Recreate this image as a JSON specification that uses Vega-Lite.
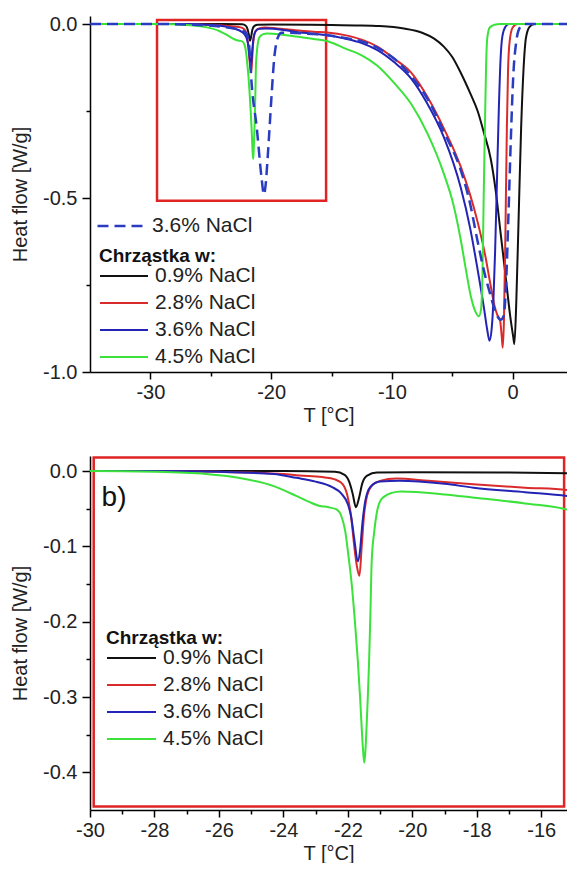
{
  "$schema": "https://vega.github.io/schema/vega-lite/v6.json",
  "padding": {"left": 10, "top": 14, "right": 0, "bottom": 0},
  "spacing": 31,
  "config": {
    "view": {"stroke": null},
    "font": "Liberation Sans",
    "axis": {
      "grid": false,
      "labelFlush": false,
      "labelOverlap": false,
      "domainColor": "#000000",
      "domainWidth": 1.5,
      "tickColor": "#000000",
      "tickWidth": 1.5,
      "labelFont": "Liberation Sans",
      "labelFontSize": 20,
      "labelColor": "#222222",
      "titleFont": "Liberation Sans",
      "titleFontSize": 20,
      "titleFontWeight": "normal",
      "titleColor": "#222222"
    },
    "legend": {
      "labelFont": "Liberation Sans",
      "titleFont": "Liberation Sans",
      "labelColor": "#222222",
      "titleColor": "#111111",
      "padding": 0
    }
  },
  "datasets": {
    "cart": [
      {"sample":"0.9% NaCl","T":-35,"HF":0},{"sample":"0.9% NaCl","T":-28,"HF":0},{"sample":"0.9% NaCl","T":-24,"HF":0},{"sample":"0.9% NaCl","T":-22.4,"HF":-0.001},{"sample":"0.9% NaCl","T":-22.1,"HF":-0.005},{"sample":"0.9% NaCl","T":-21.95,"HF":-0.015},{"sample":"0.9% NaCl","T":-21.85,"HF":-0.03},{"sample":"0.9% NaCl","T":-21.75,"HF":-0.048},{"sample":"0.9% NaCl","T":-21.65,"HF":-0.035},{"sample":"0.9% NaCl","T":-21.55,"HF":-0.016},{"sample":"0.9% NaCl","T":-21.4,"HF":-0.006},{"sample":"0.9% NaCl","T":-21.1,"HF":-0.002},{"sample":"0.9% NaCl","T":-20,"HF":-0.0015},{"sample":"0.9% NaCl","T":-17,"HF":-0.002},{"sample":"0.9% NaCl","T":-15,"HF":-0.003},{"sample":"0.9% NaCl","T":-13,"HF":-0.004},{"sample":"0.9% NaCl","T":-11,"HF":-0.006},{"sample":"0.9% NaCl","T":-9,"HF":-0.013},{"sample":"0.9% NaCl","T":-7.5,"HF":-0.025},{"sample":"0.9% NaCl","T":-6.5,"HF":-0.042},{"sample":"0.9% NaCl","T":-5.7,"HF":-0.065},{"sample":"0.9% NaCl","T":-5,"HF":-0.095},{"sample":"0.9% NaCl","T":-4.3,"HF":-0.14},{"sample":"0.9% NaCl","T":-3.5,"HF":-0.2},{"sample":"0.9% NaCl","T":-2.9,"HF":-0.25},{"sample":"0.9% NaCl","T":-2.4,"HF":-0.31},{"sample":"0.9% NaCl","T":-1.8,"HF":-0.39},{"sample":"0.9% NaCl","T":-1.4,"HF":-0.48},{"sample":"0.9% NaCl","T":-1.0,"HF":-0.6},{"sample":"0.9% NaCl","T":-0.6,"HF":-0.72},{"sample":"0.9% NaCl","T":-0.2,"HF":-0.84},{"sample":"0.9% NaCl","T":0.05,"HF":-0.9},{"sample":"0.9% NaCl","T":0.14,"HF":-0.92},{"sample":"0.9% NaCl","T":0.3,"HF":-0.8},{"sample":"0.9% NaCl","T":0.5,"HF":-0.55},{"sample":"0.9% NaCl","T":0.7,"HF":-0.3},{"sample":"0.9% NaCl","T":0.9,"HF":-0.13},{"sample":"0.9% NaCl","T":1.1,"HF":-0.04},{"sample":"0.9% NaCl","T":1.4,"HF":-0.008},{"sample":"0.9% NaCl","T":1.8,"HF":0},{"sample":"0.9% NaCl","T":4.5,"HF":0},

      {"sample":"2.8% NaCl","T":-35,"HF":0},{"sample":"2.8% NaCl","T":-28,"HF":0},{"sample":"2.8% NaCl","T":-26,"HF":-0.001},{"sample":"2.8% NaCl","T":-25,"HF":-0.002},{"sample":"2.8% NaCl","T":-24,"HF":-0.004},{"sample":"2.8% NaCl","T":-23.5,"HF":-0.006},{"sample":"2.8% NaCl","T":-22.8,"HF":-0.008},{"sample":"2.8% NaCl","T":-22.4,"HF":-0.011},{"sample":"2.8% NaCl","T":-22.15,"HF":-0.018},{"sample":"2.8% NaCl","T":-22.0,"HF":-0.035},{"sample":"2.8% NaCl","T":-21.9,"HF":-0.06},{"sample":"2.8% NaCl","T":-21.8,"HF":-0.1},{"sample":"2.8% NaCl","T":-21.72,"HF":-0.126},{"sample":"2.8% NaCl","T":-21.64,"HF":-0.139},{"sample":"2.8% NaCl","T":-21.57,"HF":-0.1},{"sample":"2.8% NaCl","T":-21.5,"HF":-0.06},{"sample":"2.8% NaCl","T":-21.4,"HF":-0.032},{"sample":"2.8% NaCl","T":-21.25,"HF":-0.019},{"sample":"2.8% NaCl","T":-21.0,"HF":-0.013},{"sample":"2.8% NaCl","T":-20.5,"HF":-0.01},{"sample":"2.8% NaCl","T":-19.5,"HF":-0.013},{"sample":"2.8% NaCl","T":-18,"HF":-0.018},{"sample":"2.8% NaCl","T":-16.5,"HF":-0.022},{"sample":"2.8% NaCl","T":-15.2,"HF":-0.025},{"sample":"2.8% NaCl","T":-13.9,"HF":-0.032},{"sample":"2.8% NaCl","T":-12.5,"HF":-0.045},{"sample":"2.8% NaCl","T":-11.2,"HF":-0.065},{"sample":"2.8% NaCl","T":-9.8,"HF":-0.1},{"sample":"2.8% NaCl","T":-8.4,"HF":-0.14},{"sample":"2.8% NaCl","T":-7.05,"HF":-0.21},{"sample":"2.8% NaCl","T":-5.7,"HF":-0.3},{"sample":"2.8% NaCl","T":-4.3,"HF":-0.41},{"sample":"2.8% NaCl","T":-2.93,"HF":-0.565},{"sample":"2.8% NaCl","T":-2.3,"HF":-0.66},{"sample":"2.8% NaCl","T":-1.83,"HF":-0.75},{"sample":"2.8% NaCl","T":-1.5,"HF":-0.81},{"sample":"2.8% NaCl","T":-1.28,"HF":-0.835},{"sample":"2.8% NaCl","T":-1.05,"HF":-0.85},{"sample":"2.8% NaCl","T":-0.9,"HF":-0.9},{"sample":"2.8% NaCl","T":-0.82,"HF":-0.93},{"sample":"2.8% NaCl","T":-0.72,"HF":-0.85},{"sample":"2.8% NaCl","T":-0.6,"HF":-0.6},{"sample":"2.8% NaCl","T":-0.48,"HF":-0.3},{"sample":"2.8% NaCl","T":-0.38,"HF":-0.13},{"sample":"2.8% NaCl","T":-0.25,"HF":-0.05},{"sample":"2.8% NaCl","T":0,"HF":-0.01},{"sample":"2.8% NaCl","T":0.4,"HF":0},{"sample":"2.8% NaCl","T":4.5,"HF":0},

      {"sample":"3.6% NaCl","T":-35,"HF":0},{"sample":"3.6% NaCl","T":-28,"HF":0},{"sample":"3.6% NaCl","T":-26,"HF":-0.001},{"sample":"3.6% NaCl","T":-24.3,"HF":-0.004},{"sample":"3.6% NaCl","T":-23.6,"HF":-0.009},{"sample":"3.6% NaCl","T":-23.0,"HF":-0.014},{"sample":"3.6% NaCl","T":-22.5,"HF":-0.021},{"sample":"3.6% NaCl","T":-22.2,"HF":-0.03},{"sample":"3.6% NaCl","T":-22.0,"HF":-0.044},{"sample":"3.6% NaCl","T":-21.9,"HF":-0.06},{"sample":"3.6% NaCl","T":-21.8,"HF":-0.09},{"sample":"3.6% NaCl","T":-21.69,"HF":-0.12},{"sample":"3.6% NaCl","T":-21.62,"HF":-0.105},{"sample":"3.6% NaCl","T":-21.55,"HF":-0.07},{"sample":"3.6% NaCl","T":-21.46,"HF":-0.04},{"sample":"3.6% NaCl","T":-21.3,"HF":-0.021},{"sample":"3.6% NaCl","T":-21.0,"HF":-0.014},{"sample":"3.6% NaCl","T":-20.4,"HF":-0.013},{"sample":"3.6% NaCl","T":-19,"HF":-0.017},{"sample":"3.6% NaCl","T":-18.1,"HF":-0.022},{"sample":"3.6% NaCl","T":-16.5,"HF":-0.028},{"sample":"3.6% NaCl","T":-15.2,"HF":-0.033},{"sample":"3.6% NaCl","T":-13.9,"HF":-0.042},{"sample":"3.6% NaCl","T":-12.5,"HF":-0.055},{"sample":"3.6% NaCl","T":-11.2,"HF":-0.075},{"sample":"3.6% NaCl","T":-9.8,"HF":-0.11},{"sample":"3.6% NaCl","T":-8.4,"HF":-0.157},{"sample":"3.6% NaCl","T":-7.05,"HF":-0.23},{"sample":"3.6% NaCl","T":-5.7,"HF":-0.325},{"sample":"3.6% NaCl","T":-4.3,"HF":-0.47},{"sample":"3.6% NaCl","T":-3.5,"HF":-0.59},{"sample":"3.6% NaCl","T":-2.93,"HF":-0.7},{"sample":"3.6% NaCl","T":-2.38,"HF":-0.815},{"sample":"3.6% NaCl","T":-2.1,"HF":-0.88},{"sample":"3.6% NaCl","T":-1.92,"HF":-0.91},{"sample":"3.6% NaCl","T":-1.75,"HF":-0.88},{"sample":"3.6% NaCl","T":-1.6,"HF":-0.8},{"sample":"3.6% NaCl","T":-1.45,"HF":-0.65},{"sample":"3.6% NaCl","T":-1.3,"HF":-0.45},{"sample":"3.6% NaCl","T":-1.15,"HF":-0.25},{"sample":"3.6% NaCl","T":-1.0,"HF":-0.1},{"sample":"3.6% NaCl","T":-0.85,"HF":-0.035},{"sample":"3.6% NaCl","T":-0.6,"HF":-0.008},{"sample":"3.6% NaCl","T":-0.3,"HF":0},{"sample":"3.6% NaCl","T":4.5,"HF":0},

      {"sample":"4.5% NaCl","T":-35,"HF":0},{"sample":"4.5% NaCl","T":-30,"HF":0},{"sample":"4.5% NaCl","T":-28,"HF":-0.001},{"sample":"4.5% NaCl","T":-26.4,"HF":-0.004},{"sample":"4.5% NaCl","T":-25.4,"HF":-0.009},{"sample":"4.5% NaCl","T":-24.3,"HF":-0.02},{"sample":"4.5% NaCl","T":-23.6,"HF":-0.033},{"sample":"4.5% NaCl","T":-23.2,"HF":-0.041},{"sample":"4.5% NaCl","T":-22.9,"HF":-0.046},{"sample":"4.5% NaCl","T":-22.6,"HF":-0.048},{"sample":"4.5% NaCl","T":-22.35,"HF":-0.051},{"sample":"4.5% NaCl","T":-22.2,"HF":-0.06},{"sample":"4.5% NaCl","T":-22.08,"HF":-0.08},{"sample":"4.5% NaCl","T":-21.98,"HF":-0.113},{"sample":"4.5% NaCl","T":-21.88,"HF":-0.15},{"sample":"4.5% NaCl","T":-21.78,"HF":-0.2},{"sample":"4.5% NaCl","T":-21.69,"HF":-0.252},{"sample":"4.5% NaCl","T":-21.62,"HF":-0.3},{"sample":"4.5% NaCl","T":-21.57,"HF":-0.341},{"sample":"4.5% NaCl","T":-21.52,"HF":-0.375},{"sample":"4.5% NaCl","T":-21.49,"HF":-0.387},{"sample":"4.5% NaCl","T":-21.46,"HF":-0.375},{"sample":"4.5% NaCl","T":-21.42,"HF":-0.341},{"sample":"4.5% NaCl","T":-21.38,"HF":-0.3},{"sample":"4.5% NaCl","T":-21.34,"HF":-0.252},{"sample":"4.5% NaCl","T":-21.3,"HF":-0.19},{"sample":"4.5% NaCl","T":-21.26,"HF":-0.12},{"sample":"4.5% NaCl","T":-21.18,"HF":-0.08},{"sample":"4.5% NaCl","T":-21.1,"HF":-0.055},{"sample":"4.5% NaCl","T":-20.95,"HF":-0.037},{"sample":"4.5% NaCl","T":-20.64,"HF":-0.029},{"sample":"4.5% NaCl","T":-20.34,"HF":-0.027},{"sample":"4.5% NaCl","T":-19,"HF":-0.031},{"sample":"4.5% NaCl","T":-18.14,"HF":-0.035},{"sample":"4.5% NaCl","T":-16.5,"HF":-0.043},{"sample":"4.5% NaCl","T":-15.2,"HF":-0.051},{"sample":"4.5% NaCl","T":-13.9,"HF":-0.07},{"sample":"4.5% NaCl","T":-12.5,"HF":-0.09},{"sample":"4.5% NaCl","T":-11.2,"HF":-0.12},{"sample":"4.5% NaCl","T":-9.8,"HF":-0.17},{"sample":"4.5% NaCl","T":-8.4,"HF":-0.23},{"sample":"4.5% NaCl","T":-7.05,"HF":-0.315},{"sample":"4.5% NaCl","T":-5.7,"HF":-0.43},{"sample":"4.5% NaCl","T":-4.9,"HF":-0.52},{"sample":"4.5% NaCl","T":-4.3,"HF":-0.62},{"sample":"4.5% NaCl","T":-3.9,"HF":-0.7},{"sample":"4.5% NaCl","T":-3.48,"HF":-0.78},{"sample":"4.5% NaCl","T":-3.1,"HF":-0.825},{"sample":"4.5% NaCl","T":-2.8,"HF":-0.84},{"sample":"4.5% NaCl","T":-2.62,"HF":-0.82},{"sample":"4.5% NaCl","T":-2.5,"HF":-0.72},{"sample":"4.5% NaCl","T":-2.4,"HF":-0.5},{"sample":"4.5% NaCl","T":-2.3,"HF":-0.3},{"sample":"4.5% NaCl","T":-2.2,"HF":-0.12},{"sample":"4.5% NaCl","T":-2.1,"HF":-0.04},{"sample":"4.5% NaCl","T":-1.9,"HF":-0.01},{"sample":"4.5% NaCl","T":-1.5,"HF":-0.002},{"sample":"4.5% NaCl","T":-1.0,"HF":0},{"sample":"4.5% NaCl","T":4.5,"HF":0}
    ],
    "sol": [
      {"solution":"3.6% NaCl","T":-35,"HF":0},{"solution":"3.6% NaCl","T":-29,"HF":0},{"solution":"3.6% NaCl","T":-26,"HF":-0.003},{"solution":"3.6% NaCl","T":-24,"HF":-0.008},{"solution":"3.6% NaCl","T":-23,"HF":-0.013},{"solution":"3.6% NaCl","T":-22.3,"HF":-0.02},{"solution":"3.6% NaCl","T":-22.0,"HF":-0.03},{"solution":"3.6% NaCl","T":-21.8,"HF":-0.07},{"solution":"3.6% NaCl","T":-21.62,"HF":-0.17},{"solution":"3.6% NaCl","T":-21.2,"HF":-0.295},{"solution":"3.6% NaCl","T":-20.8,"HF":-0.44},{"solution":"3.6% NaCl","T":-20.6,"HF":-0.49},{"solution":"3.6% NaCl","T":-20.45,"HF":-0.46},{"solution":"3.6% NaCl","T":-20.3,"HF":-0.39},{"solution":"3.6% NaCl","T":-19.97,"HF":-0.209},{"solution":"3.6% NaCl","T":-19.75,"HF":-0.1},{"solution":"3.6% NaCl","T":-19.58,"HF":-0.056},{"solution":"3.6% NaCl","T":-19.4,"HF":-0.035},{"solution":"3.6% NaCl","T":-19.15,"HF":-0.025},{"solution":"3.6% NaCl","T":-18,"HF":-0.026},{"solution":"3.6% NaCl","T":-16.5,"HF":-0.029},{"solution":"3.6% NaCl","T":-15.3,"HF":-0.032},{"solution":"3.6% NaCl","T":-13.9,"HF":-0.04},{"solution":"3.6% NaCl","T":-12.5,"HF":-0.05},{"solution":"3.6% NaCl","T":-11.2,"HF":-0.068},{"solution":"3.6% NaCl","T":-9.8,"HF":-0.1},{"solution":"3.6% NaCl","T":-8.4,"HF":-0.15},{"solution":"3.6% NaCl","T":-7.05,"HF":-0.215},{"solution":"3.6% NaCl","T":-5.7,"HF":-0.31},{"solution":"3.6% NaCl","T":-4.3,"HF":-0.42},{"solution":"3.6% NaCl","T":-3.5,"HF":-0.52},{"solution":"3.6% NaCl","T":-2.93,"HF":-0.62},{"solution":"3.6% NaCl","T":-2.3,"HF":-0.72},{"solution":"3.6% NaCl","T":-1.83,"HF":-0.78},{"solution":"3.6% NaCl","T":-1.4,"HF":-0.83},{"solution":"3.6% NaCl","T":-1.0,"HF":-0.85},{"solution":"3.6% NaCl","T":-0.75,"HF":-0.84},{"solution":"3.6% NaCl","T":-0.55,"HF":-0.75},{"solution":"3.6% NaCl","T":-0.35,"HF":-0.55},{"solution":"3.6% NaCl","T":-0.15,"HF":-0.33},{"solution":"3.6% NaCl","T":0.05,"HF":-0.15},{"solution":"3.6% NaCl","T":0.3,"HF":-0.05},{"solution":"3.6% NaCl","T":0.6,"HF":-0.01},{"solution":"3.6% NaCl","T":1.0,"HF":0},{"solution":"3.6% NaCl","T":4.5,"HF":0}
    ],
    "boxes": [
      {"panel":"a","T1":-29.45,"T2":-15.45,"HF1":0.0115,"HF2":-0.508},
      {"panel":"b","T1":-29.885,"T2":-15.29,"HF1":0.018,"HF2":-0.4455}
    ],
    "notes": [
      {"txt":"b)","T":-29.64,"HF":-0.036}
    ]
  },
  "resolve": {
    "scale": {"x":"independent","y":"independent","color":"independent","strokeDash":"independent"},
    "legend": {"color":"independent","strokeDash":"independent"}
  },
  "vconcat": [
    {
      "width": 477,
      "height": 356,
      "resolve": {"axis": {"x":"independent","y":"independent"}},
      "layer": [
        {
          "data": {"name":"boxes"},
          "transform": [{"filter":"datum.panel == 'a'"}],
          "mark": {"type":"rect","fillOpacity":0,"stroke":"#e02424","strokeWidth":2.5},
          "encoding": {
            "x": {"field":"T1","type":"quantitative","scale":{"domain":[-35,4.5],"nice":false,"zero":false},
                  "axis":{"orient":"bottom","values":[-25,-15,-5],"labels":false,"domain":false,"tickSize":4,"title":null}},
            "x2": {"field":"T2"},
            "y": {"field":"HF1","type":"quantitative","scale":{"domain":[-1,0.023],"nice":false,"zero":false},
                  "axis":{"orient":"left","values":[-0.25,-0.75],"labels":false,"domain":false,"tickSize":4,"title":null}},
            "y2": {"field":"HF2"}
          }
        },
        {
          "data": {"name":"cart"},
          "mark": {"type":"line","strokeWidth":2,"clip":true,"interpolate":"monotone"},
          "encoding": {
            "x": {"field":"T","type":"quantitative","scale":{"domain":[-35,4.5],"nice":false,"zero":false},
                  "axis":{"orient":"bottom","values":[-30,-20,-10,0],"tickSize":7,"labelPadding":3,"titlePadding":3,"title":"T [°C]",
                          "labelExpr":"(datum.value < 0 ? '-' : '') + format(abs(datum.value), 'd')"}},
            "y": {"field":"HF","type":"quantitative","scale":{"domain":[-1,0.023],"nice":false,"zero":false},
                  "axis":{"orient":"left","values":[0,-0.5,-1],"tickSize":8,"labelPadding":5,"titlePadding":12,"title":"Heat flow [W/g]",
                          "labelExpr":"(datum.value < 0 ? '-' : '') + format(abs(datum.value), '.1f')"}},
            "color": {"field":"sample","type":"nominal",
                      "scale":{"domain":["0.9% NaCl","2.8% NaCl","3.6% NaCl","4.5% NaCl"],"range":["#111111","#d92b2b","#2323b5","#3ae23a"]},
                      "legend":{"title":"Chrząstka w:","orient":"none","legendX":9,"legendY":231,"symbolType":"stroke","symbolSize":2304,
                                "symbolStrokeWidth":2,"clipHeight":20,"rowPadding":6,"labelFontSize":21,"labelOffset":6,
                                "titleFontSize":19,"titleFontWeight":"bold","titlePadding":0}}
          }
        },
        {
          "data": {"name":"sol"},
          "mark": {"type":"line","strokeWidth":2.5,"color":"#2a3dc0","clip":true,"interpolate":"monotone"},
          "encoding": {
            "x": {"field":"T","type":"quantitative","scale":{"domain":[-35,4.5],"nice":false,"zero":false},"axis":null},
            "y": {"field":"HF","type":"quantitative","scale":{"domain":[-1,0.023],"nice":false,"zero":false},"axis":null},
            "strokeDash": {"field":"solution","type":"nominal","scale":{"range":[[11,6]]},
                           "legend":{"title":null,"orient":"none","legendX":6,"legendY":200,"symbolType":"stroke","symbolSize":2025,
                                     "symbolStrokeWidth":2.5,"symbolStrokeColor":"#2a3dc0","clipHeight":20,"labelFontSize":21,"labelOffset":8}}
          }
        }
      ]
    },
    {
      "width": 477,
      "height": 354,
      "resolve": {"axis": {"x":"independent","y":"independent"}},
      "layer": [
        {
          "data": {"name":"boxes"},
          "transform": [{"filter":"datum.panel == 'b'"}],
          "mark": {"type":"rect","fillOpacity":0,"stroke":"#e02424","strokeWidth":2.5},
          "encoding": {
            "x": {"field":"T1","type":"quantitative","scale":{"domain":[-30,-15.2],"nice":false,"zero":false},
                  "axis":{"orient":"bottom","values":[-29,-27,-25,-23,-21,-19,-17],"labels":false,"domain":false,"tickSize":4,"title":null}},
            "x2": {"field":"T2"},
            "y": {"field":"HF1","type":"quantitative","scale":{"domain":[-0.45,0.02],"nice":false,"zero":false},
                  "axis":{"orient":"left","values":[-0.05,-0.15,-0.25,-0.35],"labels":false,"domain":false,"tickSize":4,"title":null}},
            "y2": {"field":"HF2"}
          }
        },
        {
          "data": {"name":"cart"},
          "mark": {"type":"line","strokeWidth":2,"clip":true,"interpolate":"monotone"},
          "encoding": {
            "x": {"field":"T","type":"quantitative","scale":{"domain":[-30,-15.2],"nice":false,"zero":false},
                  "axis":{"orient":"bottom","values":[-30,-28,-26,-24,-22,-20,-18,-16],"tickSize":7,"labelPadding":3,"titlePadding":3,"title":"T [°C]",
                          "labelExpr":"(datum.value < 0 ? '-' : '') + format(abs(datum.value), 'd')"}},
            "y": {"field":"HF","type":"quantitative","scale":{"domain":[-0.45,0.02],"nice":false,"zero":false},
                  "axis":{"orient":"left","values":[0,-0.1,-0.2,-0.3,-0.4],"tickSize":8,"labelPadding":5,"titlePadding":12,"title":"Heat flow [W/g]",
                          "labelExpr":"(datum.value < 0 ? '-' : '') + format(abs(datum.value), '.1f')"}},
            "color": {"field":"sample","type":"nominal",
                      "scale":{"domain":["0.9% NaCl","2.8% NaCl","3.6% NaCl","4.5% NaCl"],"range":["#111111","#d92b2b","#2323b5","#3ae23a"]},
                      "legend":{"title":"Chrząstka w:","orient":"none","legendX":16,"legendY":173,"symbolType":"stroke","symbolSize":2401,
                                "symbolStrokeWidth":2,"clipHeight":20,"rowPadding":6,"labelFontSize":21,"labelOffset":6,
                                "titleFontSize":19,"titleFontWeight":"bold","titlePadding":0}}
          }
        },
        {
          "data": {"name":"notes"},
          "mark": {"type":"text","align":"left","baseline":"middle","fontSize":28,"color":"#111111","font":"Liberation Sans"},
          "encoding": {
            "x": {"field":"T","type":"quantitative","scale":{"domain":[-30,-15.2],"nice":false,"zero":false},"axis":null},
            "y": {"field":"HF","type":"quantitative","scale":{"domain":[-0.45,0.02],"nice":false,"zero":false},"axis":null},
            "text": {"field":"txt"}
          }
        }
      ]
    }
  ]
}
